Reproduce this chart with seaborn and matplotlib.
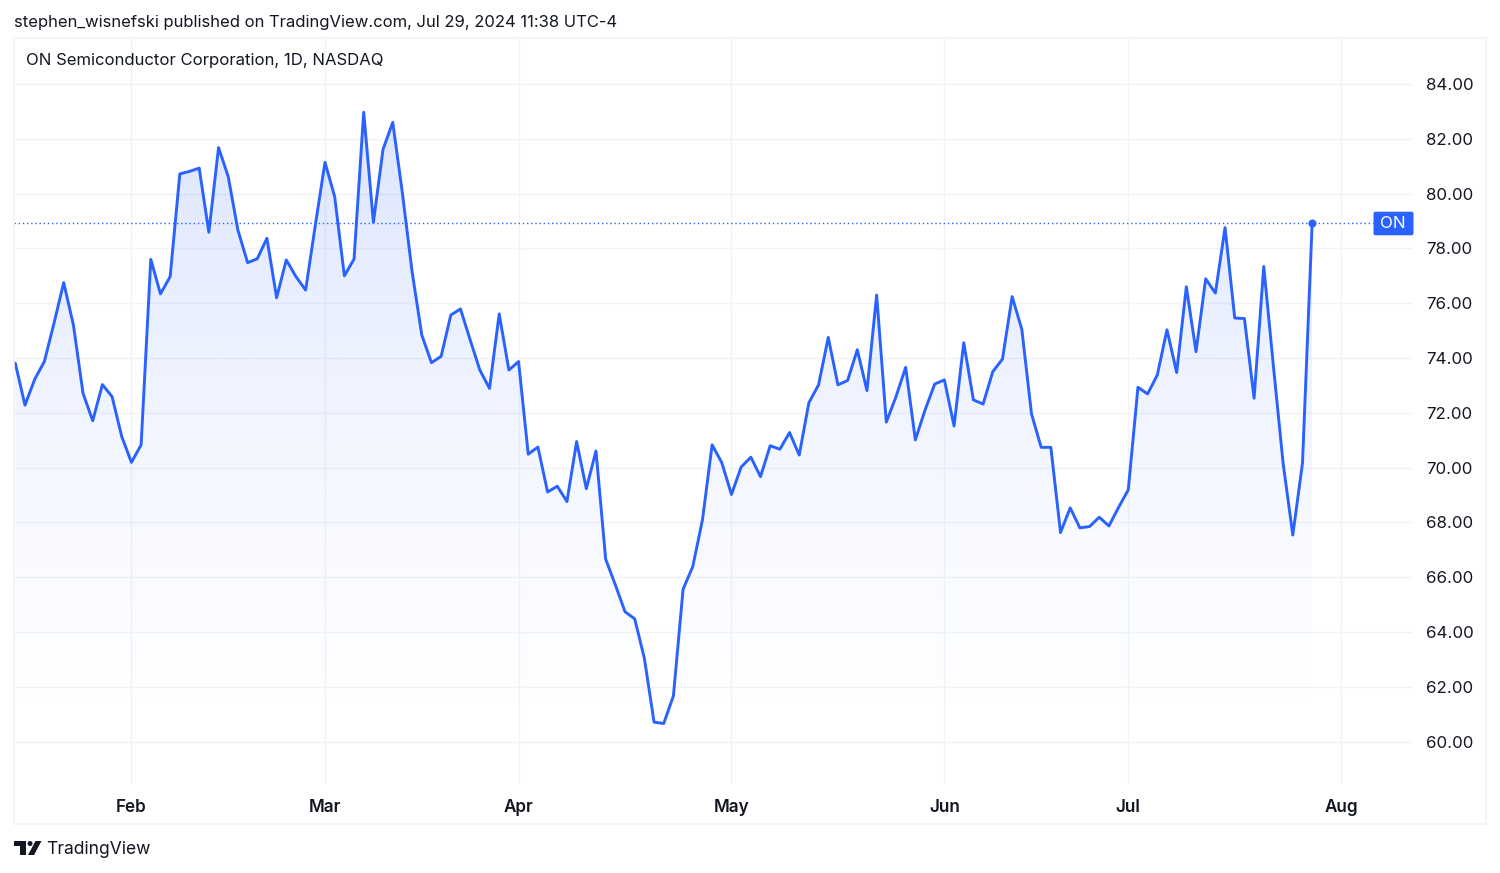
import numpy as np
import pandas as pd
import matplotlib
matplotlib.use("Agg")
import matplotlib.pyplot as plt
from matplotlib.patches import Rectangle, Polygon, FancyBboxPatch
import seaborn as sns

prices = [73.81,72.28,73.22,73.87,75.27,76.75,75.21,72.71,71.71,73.03,
          72.59,71.13,70.19,70.83,77.60,76.34,76.97,80.72,80.81,80.93,
          78.59,81.68,80.62,78.67,77.48,77.62,78.37,76.20,77.58,76.97,
          76.48,78.85,81.14,79.89,77.00,77.61,82.97,78.95,81.62,82.60,
          80.01,77.15,74.84,73.83,74.06,75.57,75.79,74.66,73.56,72.89,
          75.61,73.56,73.87,70.49,70.75,69.11,69.32,68.76,70.95,69.23,
          70.61,66.66,65.72,64.74,64.48,63.04,60.71,60.66,61.67,65.56,
          66.39,68.09,70.83,70.18,69.02,70.02,70.38,69.67,70.80,70.67,
          71.28,70.46,72.37,73.02,74.75,73.02,73.18,74.30,72.81,76.30,
          71.66,72.59,73.66,71.01,72.10,73.05,73.20,71.52,74.56,72.47,
          72.32,73.50,73.96,76.24,75.05,71.96,70.74,70.74,67.63,68.53,
          67.80,67.85,68.19,67.87,68.55,69.19,72.93,72.69,73.38,75.03,
          73.47,76.60,74.23,76.89,76.37,78.76,75.46,75.44,72.53,77.34,
          73.69,70.16,67.54,70.16,78.92]
month_labels = ["Feb", "Mar", "Apr", "May", "Jun", "Jul", "Aug"]
month_bars = [12, 32, 52, 74, 96, 115, 137]
price_ticks = [60, 62, 64, 66, 68, 70, 72, 74, 76, 78, 80, 82, 84]
ticker = "ON"
publisher_line = "stephen_wisnefski published on TradingView.com, Jul 29, 2024 11:38 UTC-4"
chart_title = "ON Semiconductor Corporation, 1D, NASDAQ"
brand = "TradingView"

BLUE = "#2962FF"
GRID = "#F1F3F7"
INK = "#131722"
W, H = 1500, 873

sns.set_theme(style="white")
plt.rcParams["font.family"] = ["Inter", "DejaVu Sans"]

fig = plt.figure(figsize=(W / 100, H / 100), dpi=100, facecolor="white")
L, R, T, B = 14, 1413, 38, 784
ax = fig.add_axes([L / W, 1 - B / H, (R - L) / W, (B - T) / H])
ax.set_facecolor("none")

df = pd.DataFrame({"bar": np.arange(len(prices)), "price": prices})
step = 9.678
ax.set_xlim(-1.3 / step, (R - 15.3) / step)
ax.set_ylim(84 - (B - 84) / 27.4, 84 + (84 - T) / 27.4)

# grid
ax.set_yticks(price_ticks)
ax.set_yticklabels([f"{v:.2f}" for v in price_ticks])
ax.set_xticks(month_bars)
ax.set_xticklabels(month_labels, fontweight="semibold")
ax.grid(True, color=GRID, lw=1.0, zorder=0)
ax.set_axisbelow(True)
ax.yaxis.tick_right()
ax.tick_params(axis="y", length=0, pad=9.3, labelsize=12.2, labelcolor=INK)
ax.tick_params(axis="x", length=0, pad=10.8, labelsize=12.3, labelcolor=INK)
for s in ax.spines.values():
    s.set_visible(False)

# gradient fill under the line
ymin, ymax = ax.get_ylim()
top = max(prices)
rgba = np.zeros((256, 1, 4))
rgba[..., :3] = matplotlib.colors.to_rgb(BLUE)
fade = np.linspace(0, 1, 256)
rgba[..., 3] = np.interp(fade, [0.0, 0.2, 0.43, 0.58, 0.73, 0.88, 1.0],
                         [0.165, 0.115, 0.07, 0.042, 0.02, 0.004, 0.0])[:, None]
im = ax.imshow(rgba, extent=[0, len(prices) - 1, ymin, top], origin="upper",
               aspect="auto", zorder=1, interpolation="bilinear")
ax.set_xlim(-1.3 / step, (R - 15.3) / step)
ax.set_ylim(ymin, ymax)
clip = Polygon(np.vstack([[0, ymin], np.column_stack([df["bar"], df["price"]]),
                          [len(prices) - 1, ymin]]), transform=ax.transData)
im.set_clip_path(clip)

# price line
sns.lineplot(data=df, x="bar", y="price", ax=ax, color=BLUE, lw=2.1, zorder=3,
             errorbar=None)
ax.set_xlabel("")
ax.set_ylabel("")

# last price: dotted line, dot, label
last = prices[-1]
ax.axhline(last, color=BLUE, lw=1.0, ls=(0, (1, 2)), zorder=2)
ax.plot([len(prices) - 1], [last], "o", color=BLUE, ms=5.8, mew=0, zorder=4)


def px(x, y):
    return x / W, 1 - y / H


# price-axis tag
tag = fig.add_axes([0, 0, 1, 1], facecolor="none", zorder=5)
tag.set_xlim(0, W)
tag.set_ylim(H, 0)
tag.axis("off")
tag.add_patch(FancyBboxPatch((1375.5, 213.7), 36, 19.6, boxstyle="round,pad=2,rounding_size=2",
                             fc=BLUE, ec="none"))
tag.add_patch(Rectangle((1405, 211.7), 6.7, 23.4, fc=BLUE, ec="none"))
tag.text(1393, 224, ticker, color="white", fontsize=12.2, ha="center", va="center")

# outer frame
tag.add_patch(Rectangle((14, 38), 1486 - 14, 824 - 38, fc="none", ec="#F0F1F4", lw=1.1))

# header
tag.text(14, 22.7, publisher_line, color=INK, fontsize=11.98, ha="left", va="center")
tag.text(25.5, 60.6, chart_title, color=INK, fontsize=12.03, ha="left", va="center")

# footer brand
tag.add_patch(Polygon([(14, 841), (26, 841), (26, 855), (20, 855), (20, 846), (14, 846)],
                      closed=True, fc=INK, ec="none"))
tag.add_patch(Polygon([(35.5, 841), (41.5, 841), (34, 855), (28, 855)],
                      closed=True, fc=INK, ec="none"))
tag.add_patch(plt.Circle((30, 843.5), 2.5, fc=INK, ec="none"))
tag.text(46.5, 850, brand, color=INK, fontsize=12.6, ha="left", va="center")

fig.savefig("out.png", dpi=100, facecolor="white")
